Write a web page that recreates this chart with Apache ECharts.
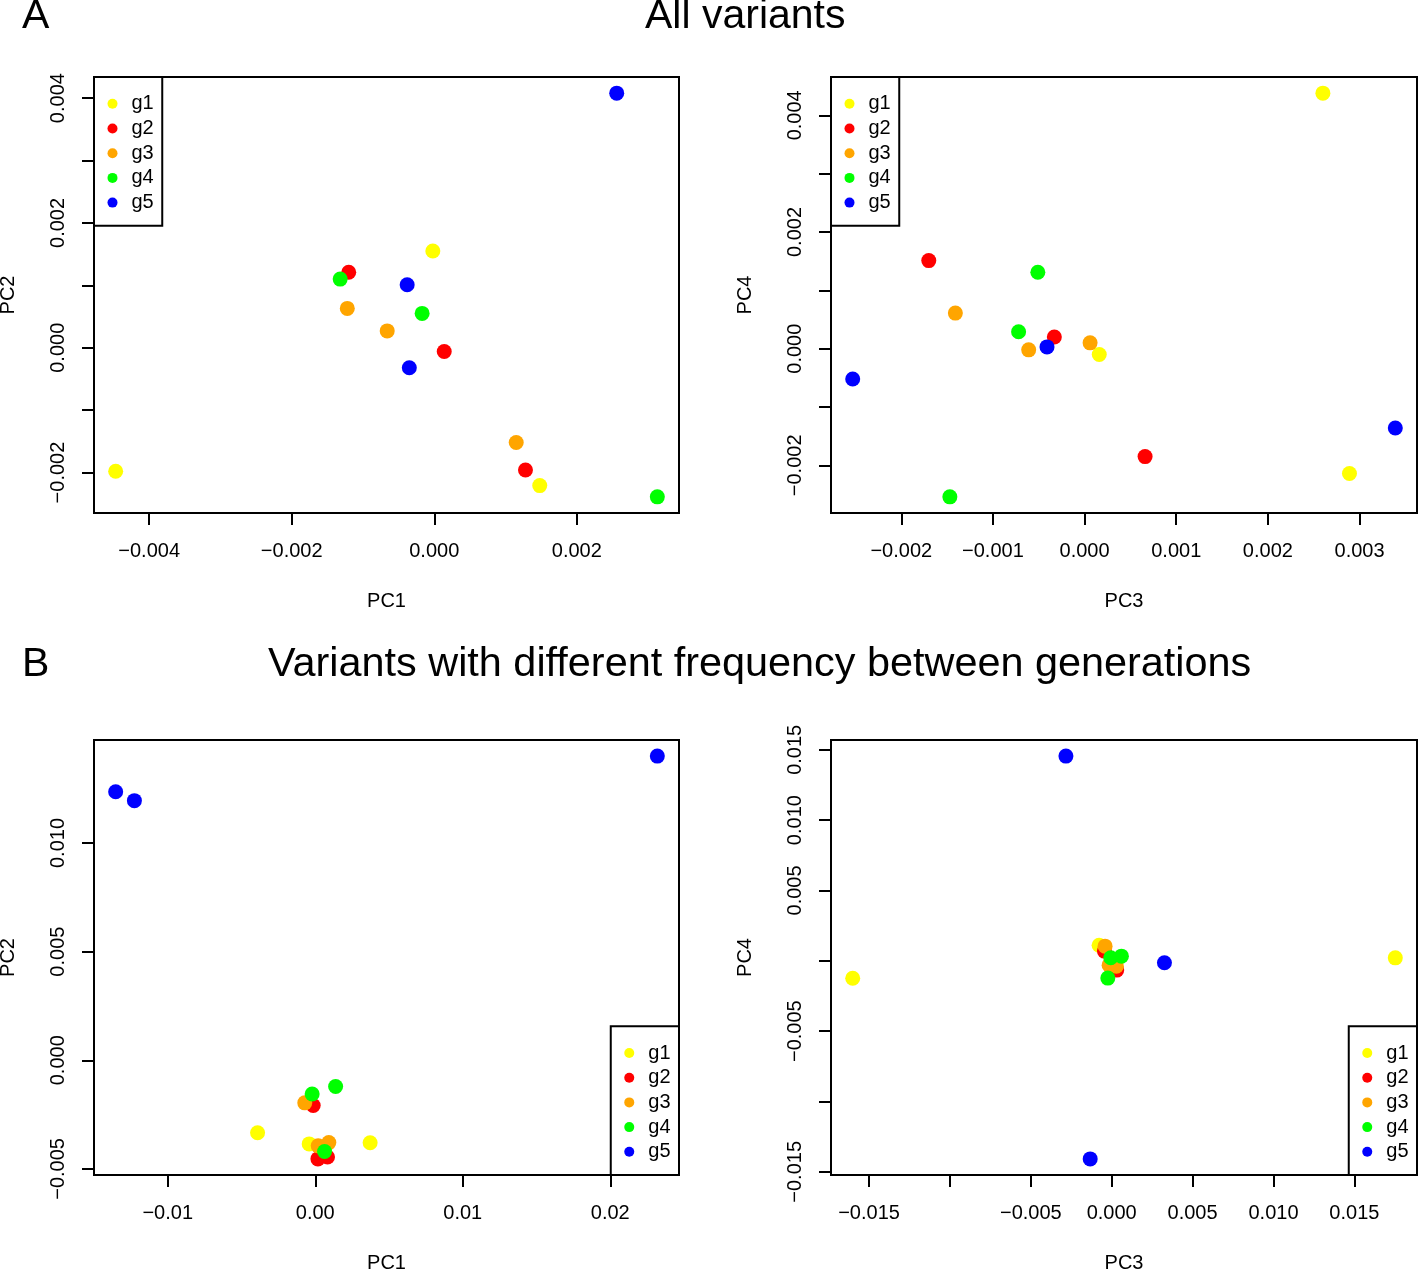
<!DOCTYPE html>
<html>
<head>
<meta charset="utf-8">
<title>PCA by generation</title>
<script src="https://cdn.jsdelivr.net/npm/echarts@6.0.0/dist/echarts.min.js"></script>
<style>
  html, body { margin: 0; padding: 0; background: #fff; }
  #main { width: 1418px; height: 1270px; }
</style>
</head>
<body>
<div id="main"></div>
<script>
// groups and colours (R: yellow, red, orange, green, blue)
var groups = ['g1', 'g2', 'g3', 'g4', 'g5'];
var groupColors = ['#FFFF00', '#FF0000', '#FFA500', '#00FF00', '#0000FF'];
// 3 samples per group, same order in every array
var sampleGroup = ['g1', 'g1', 'g1', 'g2', 'g2', 'g2', 'g3', 'g3', 'g3', 'g4', 'g4', 'g4', 'g5', 'g5', 'g5'];

// A - all variants
var allPC1 = [-0.00002, 0.00148, -0.00447, -0.00120, 0.00014, 0.00128, -0.00122, -0.00066, 0.00115, -0.00132, -0.00017, 0.00313, 0.00256, -0.00038, -0.00035];
var allPC2 = [0.00155, -0.00221, -0.00198, 0.00121, -0.00006, -0.00196, 0.00063, 0.00027, -0.00152, 0.00110, 0.00055, -0.00239, 0.00408, 0.00101, -0.00032];
var allPC3 = [0.00260, 0.00016, 0.00289, -0.00170, -0.00033, 0.00066, -0.00141, -0.00061, 0.00006, -0.00051, -0.00072, -0.00147, -0.00041, -0.00253, 0.00339];
var allPC4 = [0.00438, -0.00010, -0.00214, 0.00151, 0.00020, -0.00185, 0.00061, -0.00002, 0.00010, 0.00131, 0.00029, -0.00254, 0.00003, -0.00052, -0.00136];

// B - variants with different frequency between generations
var difPC1 = [-0.00391, -0.00041, 0.00372, -0.00014, 0.00018, 0.00083, -0.00071, 0.00020, 0.00092, -0.00021, 0.00138, 0.00063, 0.02319, -0.01353, -0.01226];
var difPC2 = [-0.00334, -0.00385, -0.00380, -0.00208, -0.00454, -0.00445, -0.00196, -0.00394, -0.00379, -0.00155, -0.00121, -0.00420, 0.01400, 0.01236, 0.01195];
var difPC3 = [-0.01601, 0.01753, -0.00078, -0.00045, 0.00031, -0.00005, -0.00041, -0.00016, 0.00029, -0.00006, 0.00060, -0.00024, -0.00283, 0.00326, -0.00133];
var difPC4 = [-0.00124, 0.00021, 0.00111, 0.00069, -0.00066, -0.00030, 0.00104, -0.00031, -0.00038, 0.00022, 0.00033, -0.00123, 0.01455, -0.00014, -0.01408];

// tick positions and which of them carry a label
var ticksAllPC1 = [-0.004, -0.002, 0, 0.002];
var ticksAllPC2 = [-0.002, -0.001, 0, 0.001, 0.002, 0.003, 0.004];
var labelsAllPC2 = [-0.002, 0, 0.002, 0.004];
var ticksAllPC3 = [-0.002, -0.001, 0, 0.001, 0.002, 0.003];
var ticksAllPC4 = [-0.002, -0.001, 0, 0.001, 0.002, 0.003, 0.004];
var labelsAllPC4 = [-0.002, 0, 0.002, 0.004];
var ticksDifPC1 = [-0.01, 0, 0.01, 0.02];
var ticksDifPC2 = [-0.005, 0, 0.005, 0.010];
var ticksDifPC3 = [-0.015, -0.010, -0.005, 0, 0.005, 0.010, 0.015];
var labelsDifPC3 = [-0.015, -0.005, 0, 0.005, 0.010, 0.015];
var ticksDifPC4 = [-0.015, -0.010, -0.005, 0, 0.005, 0.010, 0.015];
var labelsDifPC4 = [-0.015, -0.005, 0.005, 0.010, 0.015];

var FONT = '"Liberation Sans", Arial, Helvetica, sans-serif';

// R style xlim/ylim: data range widened by 4 %
function rRange(arr) {
  var lo = Math.min.apply(null, arr), hi = Math.max.apply(null, arr);
  var pad = (hi - lo) * 0.04;
  return [lo - pad, hi + pad];
}

function fmt(dec) {
  return function (v) {
    var s = Math.abs(v).toFixed(dec);
    return v < -1e-12 ? '\u2212' + s : s;
  };
}

function makeAxis(isY, grid, values, ticks, labels, dec, name) {
  var r = rRange(values);
  return {
    type: 'value',
    gridIndex: grid,
    min: r[0],
    max: r[1],
    name: name,
    nameLocation: 'middle',
    nameGap: isY ? 76 : 78,
    nameTextStyle: { fontFamily: FONT, fontSize: 20, color: '#000' },
    axisLine: { show: false, onZero: false },
    axisTick: {
      show: true, inside: false, length: 12,
      lineStyle: { color: '#000', width: 2 },
      customValues: ticks
    },
    axisLabel: {
      show: true,
      rotate: isY ? 90 : 0,
      margin: isY ? 26 : 28,
      fontFamily: FONT, fontSize: 20, color: '#000',
      formatter: fmt(dec),
      customValues: labels || ticks
    },
    splitLine: { show: false }
  };
}

function makeSeries(grid, xs, ys) {
  return groups.map(function (g, gi) {
    var pts = [];
    for (var i = 0; i < sampleGroup.length; i++) {
      if (sampleGroup[i] === g) pts.push([xs[i], ys[i]]);
    }
    return {
      name: g,
      type: 'scatter',
      xAxisIndex: grid,
      yAxisIndex: grid,
      symbol: 'circle',
      symbolSize: 15,
      itemStyle: { color: groupColors[gi], opacity: 1 },
      emphasis: { disabled: true },
      data: pts
    };
  });
}

function makeLegend(pos) {
  var l = {
    orient: 'vertical',
    icon: 'circle',
    itemWidth: 28,
    itemHeight: 10,
    itemGap: 4.7,
    padding: [16.8, 8.5, 13.2, 13.5],
    borderColor: '#000',
    borderWidth: 2,
    backgroundColor: '#fff',
    selectedMode: false,
    textStyle: { fontFamily: FONT, fontSize: 20, color: '#000' },
    data: groups
  };
  for (var k in pos) l[k] = pos[k];
  return l;
}

var titleStyle = { fontFamily: FONT, fontSize: 41, fontWeight: 'normal', color: '#000' };

var gridBase = { show: true, borderColor: '#000', borderWidth: 2, backgroundColor: 'transparent', outerBoundsMode: 'none', containLabel: false };

var chart = echarts.init(document.getElementById('main'), null, { renderer: 'canvas' });

chart.setOption({
  animation: false,
  backgroundColor: '#fff',
  title: [
    { text: 'A', left: 22, top: -4, padding: 0, textStyle: titleStyle },
    { text: 'All variants', left: 645, top: -4, padding: 0, textStyle: titleStyle },
    { text: 'B', left: 22, top: 644, padding: 0, textStyle: titleStyle },
    { text: 'Variants with different frequency between generations', left: 268, top: 644, padding: 0,
      textStyle: Object.assign({}, titleStyle, { fontSize: 41.4 }) }
  ],
  grid: [
    Object.assign({ left: 94, right: 739, top: 77, bottom: 757 }, gridBase),
    Object.assign({ left: 831, right: 1, top: 77, bottom: 757 }, gridBase),
    Object.assign({ left: 94, right: 739, top: 740, bottom: 95 }, gridBase),
    Object.assign({ left: 831, right: 1, top: 740, bottom: 95 }, gridBase)
  ],
  xAxis: [
    makeAxis(false, 0, allPC1, ticksAllPC1, null, 3, 'PC1'),
    makeAxis(false, 1, allPC3, ticksAllPC3, null, 3, 'PC3'),
    makeAxis(false, 2, difPC1, ticksDifPC1, null, 2, 'PC1'),
    makeAxis(false, 3, difPC3, ticksDifPC3, labelsDifPC3, 3, 'PC3')
  ],
  yAxis: [
    makeAxis(true, 0, allPC2, ticksAllPC2, labelsAllPC2, 3, 'PC2'),
    makeAxis(true, 1, allPC4, ticksAllPC4, labelsAllPC4, 3, 'PC4'),
    makeAxis(true, 2, difPC2, ticksDifPC2, null, 3, 'PC2'),
    makeAxis(true, 3, difPC4, ticksDifPC4, labelsDifPC4, 3, 'PC4')
  ],
  legend: [
    makeLegend({ left: 94, top: 77 }),
    makeLegend({ left: 831, top: 77 }),
    makeLegend({ right: 739, bottom: 95 }),
    makeLegend({ right: 1, bottom: 95 })
  ],
  series: []
    .concat(makeSeries(0, allPC1, allPC2))
    .concat(makeSeries(1, allPC3, allPC4))
    .concat(makeSeries(2, difPC1, difPC2))
    .concat(makeSeries(3, difPC3, difPC4))
});
</script>
</body>
</html>
